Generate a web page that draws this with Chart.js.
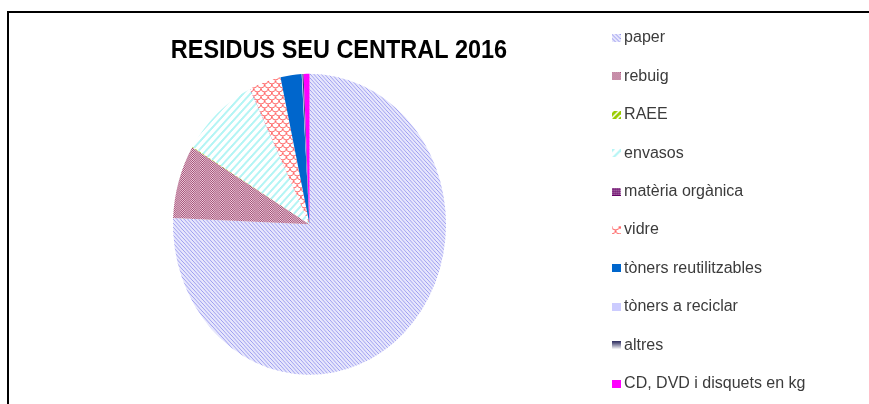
<!DOCTYPE html>
<html>
<head>
<meta charset="utf-8">
<title>Residus seu central 2016</title>
<script src="https://cdn.jsdelivr.net/npm/chart.js@4/dist/chart.umd.min.js"></script>
<style>
  html, body { margin: 0; padding: 0; background: #fff; overflow: hidden; }
  #wrap { position: absolute; left: 0; top: 0; width: 869px; height: 441px; }
  /* sheet frame, only left and top edges are visible */
  #frame { position: absolute; left: 7px; top: 11px; width: 880px; height: 420px;
           border-left: 2px solid #000; border-top: 2px solid #000; pointer-events: none; }
</style>
</head>
<body>
<div id="wrap"><canvas id="residusChart"></canvas></div>
<div id="frame"></div>
<script>
// Data
const TITLE = 'RESIDUS SEU CENTRAL 2016';
const labels = ['paper', 'rebuig', 'RAEE', 'envasos', 'matèria orgànica', 'vidre',
                'tòners reutilitzables', 'tòners a reciclar', 'altres', 'CD, DVD i disquets en kg'];
const kg = [7567, 789, 8, 919, 3, 375, 250, 8, 14, 69];

const LEGEND_FONT = '"Liberation Sans", Arial, sans-serif';
const X_SCALE = 0.907; // the pie in the picture is a bit narrower than tall

const canvas = document.getElementById('residusChart');
const ctx = canvas.getContext('2d');

// small tile canvases for the excel-like fill patterns
function tile(w, h, draw) {
    const c = document.createElement('canvas');
    c.width = w; c.height = h;
    draw(c.getContext('2d'), w, h);
    return c;
}
function pixels(g, w, h, pick) {
    for (let x = 0; x < w; x++) {
        for (let y = 0; y < h; y++) {
            const col = pick(x, y);
            if (col) { g.fillStyle = col; g.fillRect(x, y, 1, 1); }
        }
    }
}

const tiles = [
    // paper - fine downward diagonal
    tile(4, 4, (g, w, h) => pixels(g, w, h, (x, y) => x === y ? '#9c9cf0' : '#e6e6fc')),
    // rebuig - 50% checker
    tile(2, 2, (g, w, h) => pixels(g, w, h, (x, y) => (x + y) % 2 === 0 ? '#a34a74' : '#ecd2de')),
    // RAEE - wide upward diagonal, green
    tile(6, 6, (g, w, h) => pixels(g, w, h, (x, y) => (x + y) % 6 < 2 ? '#ffffff' : '#99cc00')),
    // envasos - wide upward diagonal, light cyan
    tile(8, 8, (g, w, h) => pixels(g, w, h, (x, y) => (x + y) % 8 < 3 ? '#b5f5f5' : '#ffffff')),
    // matèria orgànica - dotted purple
    tile(4, 4, (g, w, h) => pixels(g, w, h, (x, y) => (x % 2 === 0 && y % 2 === 0) ? '#ffffff' : '#660066')),
    // vidre - red scales
    tile(8, 8, (g) => {
        g.fillStyle = '#fff'; g.fillRect(0, 0, 8, 8);
        g.strokeStyle = '#ff6a6a'; g.lineWidth = 1;
        g.beginPath(); g.arc(4, 0, 4, 0, Math.PI); g.stroke();
        g.beginPath(); g.arc(0, 4, 4, 0, Math.PI); g.stroke();
        g.beginPath(); g.arc(8, 4, 4, 0, Math.PI); g.stroke();
    }),
    null, null, null, null
];
const solids = [null, null, null, null, null, null, '#0066cc', '#ccccff', '#3d3d7a', '#ff00ff'];

const fills = tiles.map((t, i) => t ? ctx.createPattern(t, 'repeat') : solids[i]);

// legend icons, 9x8
const icons = labels.map((_, i) => tile(9, 8, (g, w, h) => {
    if (i === 8) {
        const grad = g.createLinearGradient(0, 0, 0, h);
        grad.addColorStop(0, '#2b2b5e');
        grad.addColorStop(1, '#ffffff');
        g.fillStyle = grad;
    } else {
        g.fillStyle = tiles[i] ? g.createPattern(tiles[i], 'repeat') : solids[i];
    }
    g.fillRect(0, 0, w, h);
}));

// layout numbers, legend column starts at x≈616
const LEGEND_PAD = 22.4;
const measure = document.createElement('canvas').getContext('2d');
measure.font = '16px ' + LEGEND_FONT;
const widest = Math.max(...labels.map(t => measure.measureText(t).width));
const padRight = 869 - 616 - 8.1 - widest - 10;
const padLeft = 2 * 309.5 - (616 - LEGEND_PAD);

// pie drawn as an ellipse
const squash = {
    id: 'squash',
    beforeDatasetsDraw(chart) {
        const arc = chart.getDatasetMeta(0).data[0];
        const c = chart.ctx;
        c.save();
        c.translate(arc.x, arc.y);
        c.scale(X_SCALE, 1);
        c.translate(-arc.x, -arc.y);
    },
    afterDatasetsDraw(chart) {
        chart.ctx.restore();
    }
};

// title sits over the pie, not over the whole canvas
const sheetTitle = {
    id: 'sheetTitle',
    afterDraw(chart) {
        const c = chart.ctx;
        c.save();
        c.font = 'bold 25.5px ' + LEGEND_FONT;
        c.fillStyle = '#000';
        c.textAlign = 'center';
        c.textBaseline = 'alphabetic';
        c.translate(339, 58);
        c.scale(0.92, 1);
        c.fillText(TITLE, 0, 0);
        c.restore();
    }
};

new Chart(ctx, {
    type: 'pie',
    data: {
        labels: labels,
        datasets: [{
            data: kg,
            backgroundColor: fills,
            borderWidth: 0,
            radius: 150.5
        }]
    },
    options: {
        responsive: true,
        maintainAspectRatio: false,
        animation: false,
        layout: { padding: { left: padLeft, right: padRight, top: 7.6, bottom: 0 } },
        plugins: {
            tooltip: { enabled: false },
            legend: {
                position: 'right',
                align: 'start',
                labels: {
                    usePointStyle: true,
                    pointStyleWidth: 0.1,
                    padding: LEGEND_PAD,
                    color: '#3b3b3b',
                    font: { family: LEGEND_FONT, size: 16 },
                    generateLabels: () => labels.map((text, i) => ({
                        text: text,
                        pointStyle: icons[i],
                        fillStyle: 'transparent',
                        strokeStyle: 'transparent',
                        lineWidth: 0,
                        fontColor: '#3b3b3b',
                        hidden: false,
                        index: i,
                        datasetIndex: 0
                    }))
                }
            }
        }
    },
    plugins: [squash, sheetTitle]
});
</script>
</body>
</html>
